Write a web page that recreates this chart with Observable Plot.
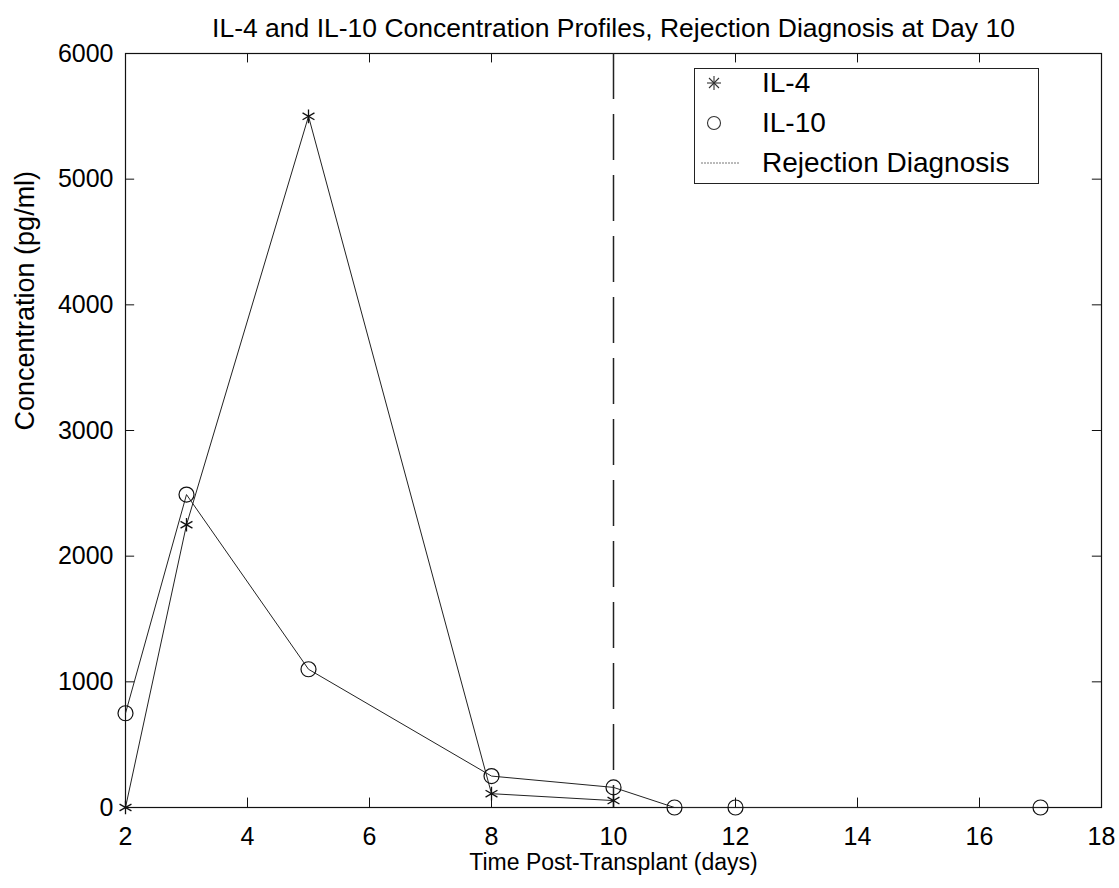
<!DOCTYPE html>
<html><head><meta charset="utf-8">
<script src="https://cdn.jsdelivr.net/npm/d3@7"></script>
<script src="https://cdn.jsdelivr.net/npm/@observablehq/plot@0.6"></script>
<style>
body{margin:0;background:#fff;font-family:"Liberation Sans",Arial,sans-serif;}
#wrap{position:relative;width:1119px;height:888px;}
#legend{position:absolute;left:694px;top:68px;width:345px;height:116px;border:1px solid #222;background:#fff;box-sizing:border-box;font-size:28px;color:#000;}
#legend .row{position:absolute;left:0;height:32px;width:100%;}
#legend svg{position:absolute;left:0;top:0;}
#legend span{position:absolute;left:67px;top:0;line-height:32px;white-space:nowrap;}
</style></head><body>
<div id="wrap"><div id="chart"></div><div id="legend"></div></div>
<script>
const il4Days = [2, 3, 5, 8, 10];
const il4Values = [0, 2250, 5500, 110, 55];
const il10Days = [2, 3, 5, 8, 10, 11, 12, 17];
const il10Values = [750, 2490, 1100, 250, 160, 0, 0, 0];
const rejectionDay = [10];
const xTicks = [2, 4, 6, 8, 10, 12, 14, 16, 18];
const yTicks = [0, 1000, 2000, 3000, 4000, 5000, 6000];
const seriesNames = ["IL-4", "IL-10", "Rejection Diagnosis"];
const titleText = "IL-4 and IL-10 Concentration Profiles, Rejection Diagnosis at Day 10";
const xLabel = "Time Post-Transplant (days)";
const yLabel = "Concentration (pg/ml)";

const il4 = il4Days.map((d, i) => ({day: d, value: il4Values[i]}));
const il10 = il10Days.map((d, i) => ({day: d, value: il10Values[i]}));

const xTickLen = 0.15, yTickLen = 75;
const chart = Plot.plot({
  width: 1119,
  height: 888,
  marginLeft: 125,
  marginRight: 18,
  marginTop: 53,
  marginBottom: 81,
  style: {fontSize: "25px", fontFamily: "'Liberation Sans', Arial, sans-serif", color: "#000", background: "#fff"},
  x: {domain: [2, 18]},
  y: {domain: [0, 6000]},
  marks: [
    Plot.frame({stroke: "#111", strokeWidth: 1.2}),
    Plot.ruleX(xTicks, {x: d => d, y1: 0, y2: yTickLen, stroke: "#111"}),
    Plot.ruleX(xTicks, {x: d => d, y1: 6000 - yTickLen, y2: 6000, stroke: "#111"}),
    Plot.ruleY(yTicks, {y: d => d, x1: 2, x2: 2 + xTickLen, stroke: "#111"}),
    Plot.ruleY(yTicks, {y: d => d, x1: 18 - xTickLen, x2: 18, stroke: "#111"}),
    Plot.axisX({ticks: xTicks, tickSize: 0, tickPadding: 20, label: null, tickFormat: d => String(d)}),
    Plot.axisY({ticks: yTicks, tickSize: 0, tickPadding: 12, label: null, tickFormat: d => String(d)}),
    Plot.ruleX(rejectionDay, {x: d => d, stroke: "#222", strokeWidth: 1.5, strokeDasharray: "46,15"}),
    Plot.line(il4, {x: "day", y: "value", stroke: "#222", strokeWidth: 1}),
    Plot.line(il10, {x: "day", y: "value", stroke: "#222", strokeWidth: 1}),
    Plot.dot(il4, {x: "day", y: "value", symbol: "asterisk", r: 6.5, stroke: "#111", strokeWidth: 1.3}),
    Plot.dot(il10, {x: "day", y: "value", symbol: "circle", r: 7.5, stroke: "#111", fill: "none", strokeWidth: 1.2}),
    Plot.text([titleText], {text: d => d, frameAnchor: "top", dy: -35, fontSize: 26.5}),
    Plot.text([xLabel], {text: d => d, frameAnchor: "bottom", dy: 62, fontSize: 23}),
    Plot.text([yLabel], {text: d => d, frameAnchor: "left", dx: -100, rotate: -90, fontSize: 27})
  ]
});
document.getElementById("chart").appendChild(chart);

// Legend
const legend = document.getElementById("legend");
const rowsTop = [-2, 38, 78];
const symbolsSvg = [
  '<svg width="44" height="32"><g stroke="#333" stroke-width="1.1" transform="translate(19,16)"><line x1="-7" y1="0" x2="7" y2="0"/><line x1="0" y1="-7" x2="0" y2="7"/><line x1="-5" y1="-5" x2="5" y2="5"/><line x1="-5" y1="5" x2="5" y2="-5"/></g></svg>',
  '<svg width="44" height="32"><circle cx="19" cy="16" r="6.5" fill="none" stroke="#333" stroke-width="1.1"/></svg>',
  '<svg width="46" height="32"><line x1="6" y1="16" x2="44" y2="16" stroke="#777" stroke-width="1" stroke-dasharray="2,1"/></svg>'
];
seriesNames.forEach((name, i) => {
  const row = document.createElement("div");
  row.className = "row";
  row.style.top = rowsTop[i] + "px";
  row.innerHTML = symbolsSvg[i] + "<span>" + name + "</span>";
  legend.appendChild(row);
});
</script>
</body></html>
